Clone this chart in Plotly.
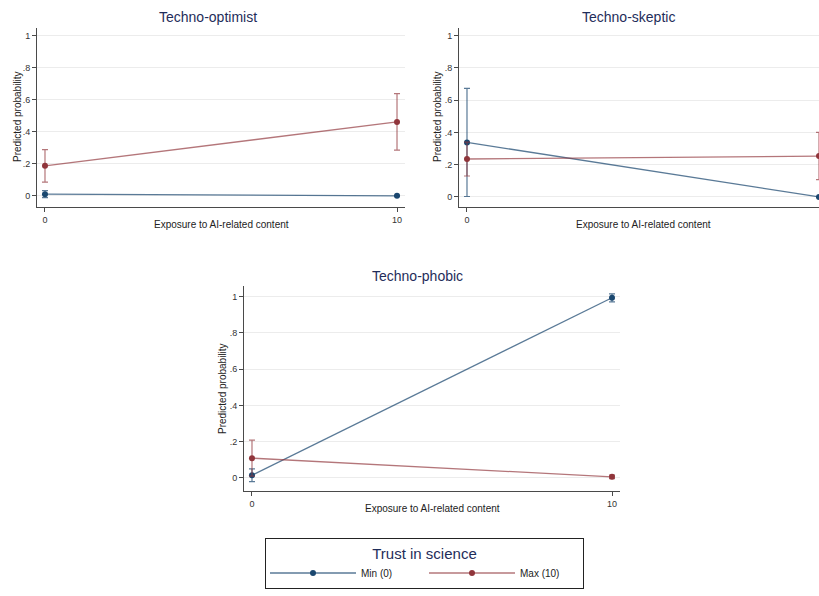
import plotly.graph_objects as go

W, H = 819, 596

# ---------------- data ----------------
exposure = [0, 10]
x_ticks = [0, 10]
x_tick_labels = ["0", "10"]
y_ticks = [0, 0.2, 0.4, 0.6, 0.8, 1.0]
y_tick_labels = ["0", ".2", ".4", ".6", ".8", "1"]

panel_titles = ["Techno-optimist", "Techno-skeptic", "Techno-phobic"]
series_names = ["Min (0)", "Max (10)"]

opt_min = [0.010, 0.000]
opt_min_lo = [-0.012, -0.003]
opt_min_hi = [0.032, 0.003]
opt_max = [0.187, 0.461]
opt_max_lo = [0.085, 0.285]
opt_max_hi = [0.288, 0.638]

skep_min = [0.338, 0.000]
skep_min_lo = [0.003, -0.002]
skep_min_hi = [0.672, 0.002]
skep_max = [0.235, 0.253]
skep_max_lo = [0.130, 0.108]
skep_max_hi = [0.340, 0.400]

phob_min = [0.015, 0.993]
phob_min_lo = [-0.020, 0.970]
phob_min_hi = [0.050, 1.015]
phob_max = [0.109, 0.006]
phob_max_lo = [0.010, -0.004]
phob_max_hi = [0.208, 0.016]

# ---------------- style ----------------
FONT = "Liberation Sans, Arial, Helvetica, sans-serif"
NAVY_TITLE = "#1f2d5a"
line_colors = ["rgba(26,71,111,0.72)", "rgba(144,53,59,0.68)"]
marker_colors = ["#1a476f", "#90353b"]
AXIS = "#4a4a4a"
GRID = "#ececec"


def px_x(p):
    return p / W


def px_y(p):
    return 1 - p / H


# panel geometry (pixels)
panels = [
    dict(x0=37, x1=405, y0=28, y1=207, xr=[-0.227, 10.227], yr=[-0.070, 1.047],
         title=(208, 17), ytitle=(18, 117), xtitle=(221, 224)),
    dict(x0=459, x1=819, y0=28, y1=207, xr=[-0.227, 10.0], yr=[-0.062, 1.046],
         title=(628, 17), ytitle=(438, 117), xtitle=(643, 224)),
    dict(x0=244, x1=620, y0=286, y1=491, xr=[-0.222, 10.222], yr=[-0.072, 1.058],
         title=(418, 276), ytitle=(223, 388), xtitle=(432, 508)),
]

data = [
    [(opt_min, opt_min_lo, opt_min_hi), (opt_max, opt_max_lo, opt_max_hi)],
    [(skep_min, skep_min_lo, skep_min_hi), (skep_max, skep_max_lo, skep_max_hi)],
    [(phob_min, phob_min_lo, phob_min_hi), (phob_max, phob_max_lo, phob_max_hi)],
]

fig = go.Figure()
annotations = []

for i, (pan, series) in enumerate(zip(panels, data)):
    suffix = "" if i == 0 else str(i + 1)
    xa, ya = "x" + suffix, "y" + suffix
    for j, (vals, lo, hi) in enumerate(series):
        fig.add_trace(go.Scatter(
            x=exposure, y=vals, xaxis=xa, yaxis=ya,
            mode="lines+markers",
            name=series_names[j],
            legendgroup=series_names[j],
            showlegend=(i == 0),
            line=dict(color=line_colors[j], width=1.3),
            marker=dict(color=marker_colors[j], size=6),
            error_y=dict(type="data", symmetric=False,
                         array=[h - v for h, v in zip(hi, vals)],
                         arrayminus=[v - l for v, l in zip(vals, lo)],
                         color=line_colors[j], thickness=1.2, width=3),
            cliponaxis=False,
        ))
    axis_common = dict(showline=True, linecolor=AXIS, linewidth=1,
                       ticks="outside", ticklen=4, tickcolor=AXIS,
                       tickfont=dict(size=9, color="#333", family=FONT),
                       zeroline=False)
    fig.update_layout(**{
        ("xaxis" + suffix): dict(domain=[px_x(pan["x0"]), px_x(pan["x1"])],
                                 range=pan["xr"], anchor=ya,
                                 tickvals=x_ticks, ticktext=x_tick_labels,
                                 showgrid=False, **axis_common),
        ("yaxis" + suffix): dict(domain=[px_y(pan["y1"]), px_y(pan["y0"])],
                                 range=pan["yr"], anchor=xa,
                                 tickvals=y_ticks, ticktext=y_tick_labels,
                                 showgrid=True, gridcolor=GRID, gridwidth=1,
                                 **axis_common),
    })
    tx, ty = pan["title"]
    annotations.append(dict(text=panel_titles[i], x=px_x(tx), y=px_y(ty),
                            xref="paper", yref="paper", showarrow=False,
                            xanchor="center", yanchor="middle",
                            font=dict(size=14, color=NAVY_TITLE, family=FONT)))
    yx, yy = pan["ytitle"]
    annotations.append(dict(text="Predicted probability", x=px_x(yx), y=px_y(yy),
                            xref="paper", yref="paper", showarrow=False,
                            textangle=-90, xanchor="center", yanchor="middle",
                            font=dict(size=10, color="#222", family=FONT)))
    xx, xy = pan["xtitle"]
    annotations.append(dict(text="Exposure to AI-related content", x=px_x(xx), y=px_y(xy),
                            xref="paper", yref="paper", showarrow=False,
                            xanchor="center", yanchor="middle",
                            font=dict(size=10, color="#222", family=FONT)))

fig.update_layout(
    width=W, height=H,
    margin=dict(l=0, r=0, t=0, b=0, autoexpand=False),
    paper_bgcolor="white", plot_bgcolor="white",
    font=dict(family=FONT),
    annotations=annotations,
    showlegend=True,
    legend=dict(
        orientation="h",
        x=px_x(265), xanchor="left",
        y=px_y(538), yanchor="top",
        bordercolor="#222", borderwidth=1,
        bgcolor="white",
        entrywidth=58, entrywidthmode="pixels",
        itemwidth=86,
        font=dict(size=10, color="#222", family=FONT),
        title=dict(text="Trust in science", side="top center",
                   font=dict(size=15, color=NAVY_TITLE, family=FONT)),
    ),
)

fig.write_html("out.html",
               config={"displayModeBar": False},
               post_script="document.body.style.margin='0';document.body.style.overflow='hidden';")
